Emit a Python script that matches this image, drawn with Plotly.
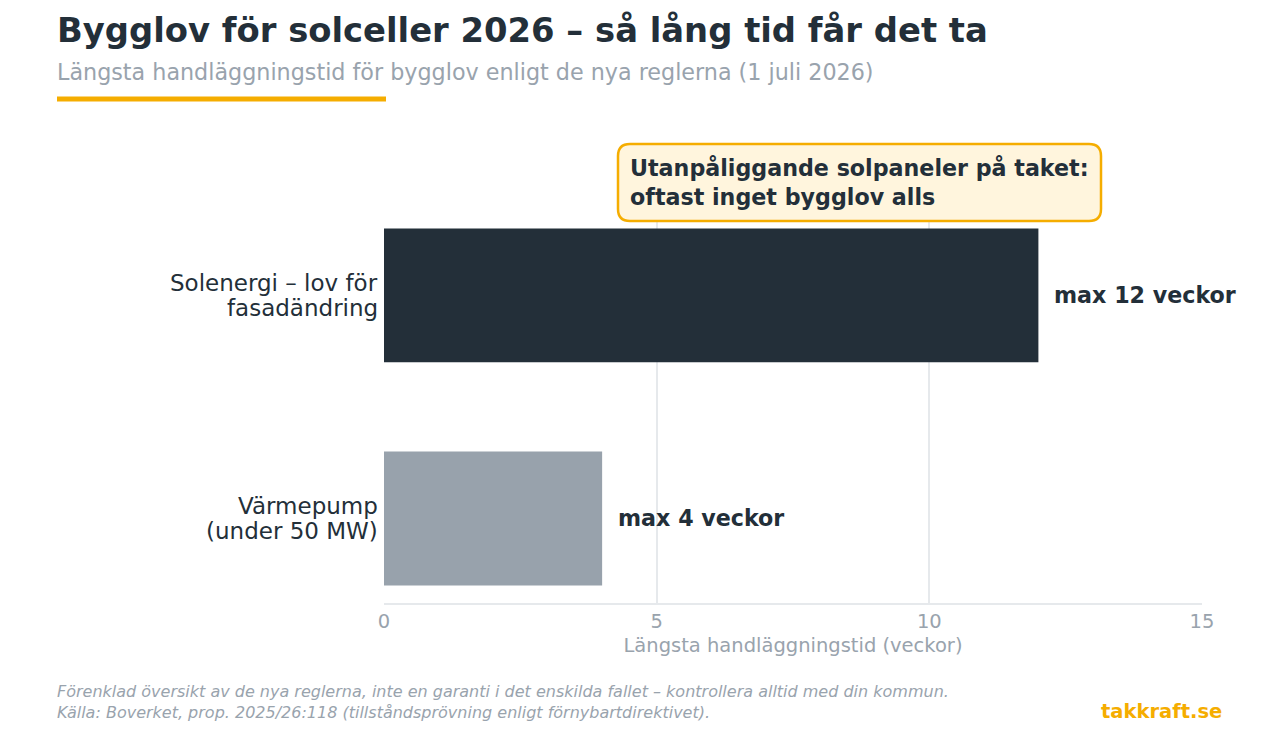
import plotly.graph_objects as go

categories = ["Värmepump<br>(under 50 MW)", "Solenergi – lov för<br>fasadändring"]
weeks = [4, 12]
bar_labels = ["max 4 veckor", "max 12 veckor"]
bar_colors = ["#98a2ac", "#232f39"]
x_ticks = [0, 5, 10, 15]

W, H = 1280, 755
L, R, T, B = 384, 1202, 212, 603

def px(x):
    return (x - L) / (R - L)

def py(y):
    return (B - y) / (B - T)

DARK = "#232f39"
GREY = "#99a3ad"
ORANGE = "#f5ad00"
FONT = "DejaVu Sans"

fig = go.Figure()
fig.add_trace(go.Bar(
    x=weeks, y=categories, orientation="h",
    marker=dict(color=bar_colors, line=dict(width=0)),
    width=0.6, hoverinfo="skip",
))

annotations = []
for v, c, t in zip(weeks, categories, bar_labels):
    annotations.append(dict(x=v, y=c, xref="x", yref="y", text=f"<b>{t}</b>",
                            showarrow=False, xanchor="left", yanchor="middle",
                            xshift=14, font=dict(family=FONT, size=22.2, color=DARK)))
    # category labels, one annotation per line for tighter line spacing
    lines = c.split("<br>")
    n = len(lines)
    for i, ln in enumerate(lines):
        annotations.append(dict(x=px(380), y=c, xref="paper", yref="y", text=ln,
                                showarrow=False, xanchor="right", yanchor="middle",
                                yshift=(n - 1) / 2 * 25 - i * 25,
                                font=dict(family=FONT, size=23, color=DARK)))

annotations += [
    dict(x=px(55), y=py(31), xref="paper", yref="paper", xanchor="left", yanchor="middle",
         text="<b>Bygglov för solceller 2026 – så lång tid får det ta</b>", showarrow=False,
         font=dict(family=FONT, size=33.8, color=DARK)),
    dict(x=px(55), y=py(72), xref="paper", yref="paper", xanchor="left", yanchor="middle",
         text="Längsta handläggningstid för bygglov enligt de nya reglerna (1 juli 2026)",
         showarrow=False, font=dict(family=FONT, size=22.25, color=GREY)),
    dict(x=px(628), y=py(183), xref="paper", yref="paper", xanchor="left", yanchor="middle",
         align="left",
         text="<b>Utanpåliggande solpaneler på taket:<br>oftast inget bygglov alls</b>",
         showarrow=False, font=dict(family=FONT, size=22.2, color=DARK)),
    dict(x=px(55), y=py(702), xref="paper", yref="paper", xanchor="left", yanchor="middle",
         align="left",
         text="<i>Förenklad översikt av de nya reglerna, inte en garanti i det enskilda fallet – kontrollera alltid med din kommun.<br>Källa: Boverket, prop. 2025/26:118 (tillståndsprövning enligt förnybartdirektivet).</i>",
         showarrow=False, font=dict(family=FONT, size=16, color=GREY)),
    dict(x=px(1224), y=py(711), xref="paper", yref="paper", xanchor="right", yanchor="middle",
         text="<b>takkraft.se</b>", showarrow=False,
         font=dict(family=FONT, size=19.5, color=ORANGE)),
]

# rounded callout box
x0, x1, y0, y1, r = 618, 1101, 144, 221, 12
path = (f"M {px(x0 + r)},{py(y0)} L {px(x1 - r)},{py(y0)} "
        f"Q {px(x1)},{py(y0)} {px(x1)},{py(y0 + r)} "
        f"L {px(x1)},{py(y1 - r)} Q {px(x1)},{py(y1)} {px(x1 - r)},{py(y1)} "
        f"L {px(x0 + r)},{py(y1)} Q {px(x0)},{py(y1)} {px(x0)},{py(y1 - r)} "
        f"L {px(x0)},{py(y0 + r)} Q {px(x0)},{py(y0)} {px(x0 + r)},{py(y0)} Z")

shapes = [
    dict(type="path", path=path, xref="paper", yref="paper",
         fillcolor="#fff5dd", line=dict(color=ORANGE, width=2.5), layer="above"),
    dict(type="line", x0=px(57), x1=px(386), y0=py(99), y1=py(99), xref="paper", yref="paper",
         line=dict(color=ORANGE, width=5)),
]

fig.update_layout(
    width=W, height=H,
    margin=dict(l=L, r=W - R, t=T, b=H - B),
    paper_bgcolor="white", plot_bgcolor="white",
    showlegend=False,
    font=dict(family=FONT, color=DARK),
    annotations=annotations, shapes=shapes,
    xaxis=dict(range=[0, 15], tickvals=x_ticks, showgrid=True, gridcolor="#e6e9ec", gridwidth=1.5,
               zeroline=False, showline=True, linecolor="#e6e9ec", linewidth=1.5,
               tickfont=dict(size=19.5, color=GREY), ticks="",
               title=dict(text="Längsta handläggningstid (veckor)", font=dict(size=19.5, color=GREY),
                          standoff=6)),
    yaxis=dict(range=[-0.379, 1.374], showgrid=False, zeroline=False, showline=False,
               showticklabels=False, ticks=""),
)

fig.write_html("out.html")
